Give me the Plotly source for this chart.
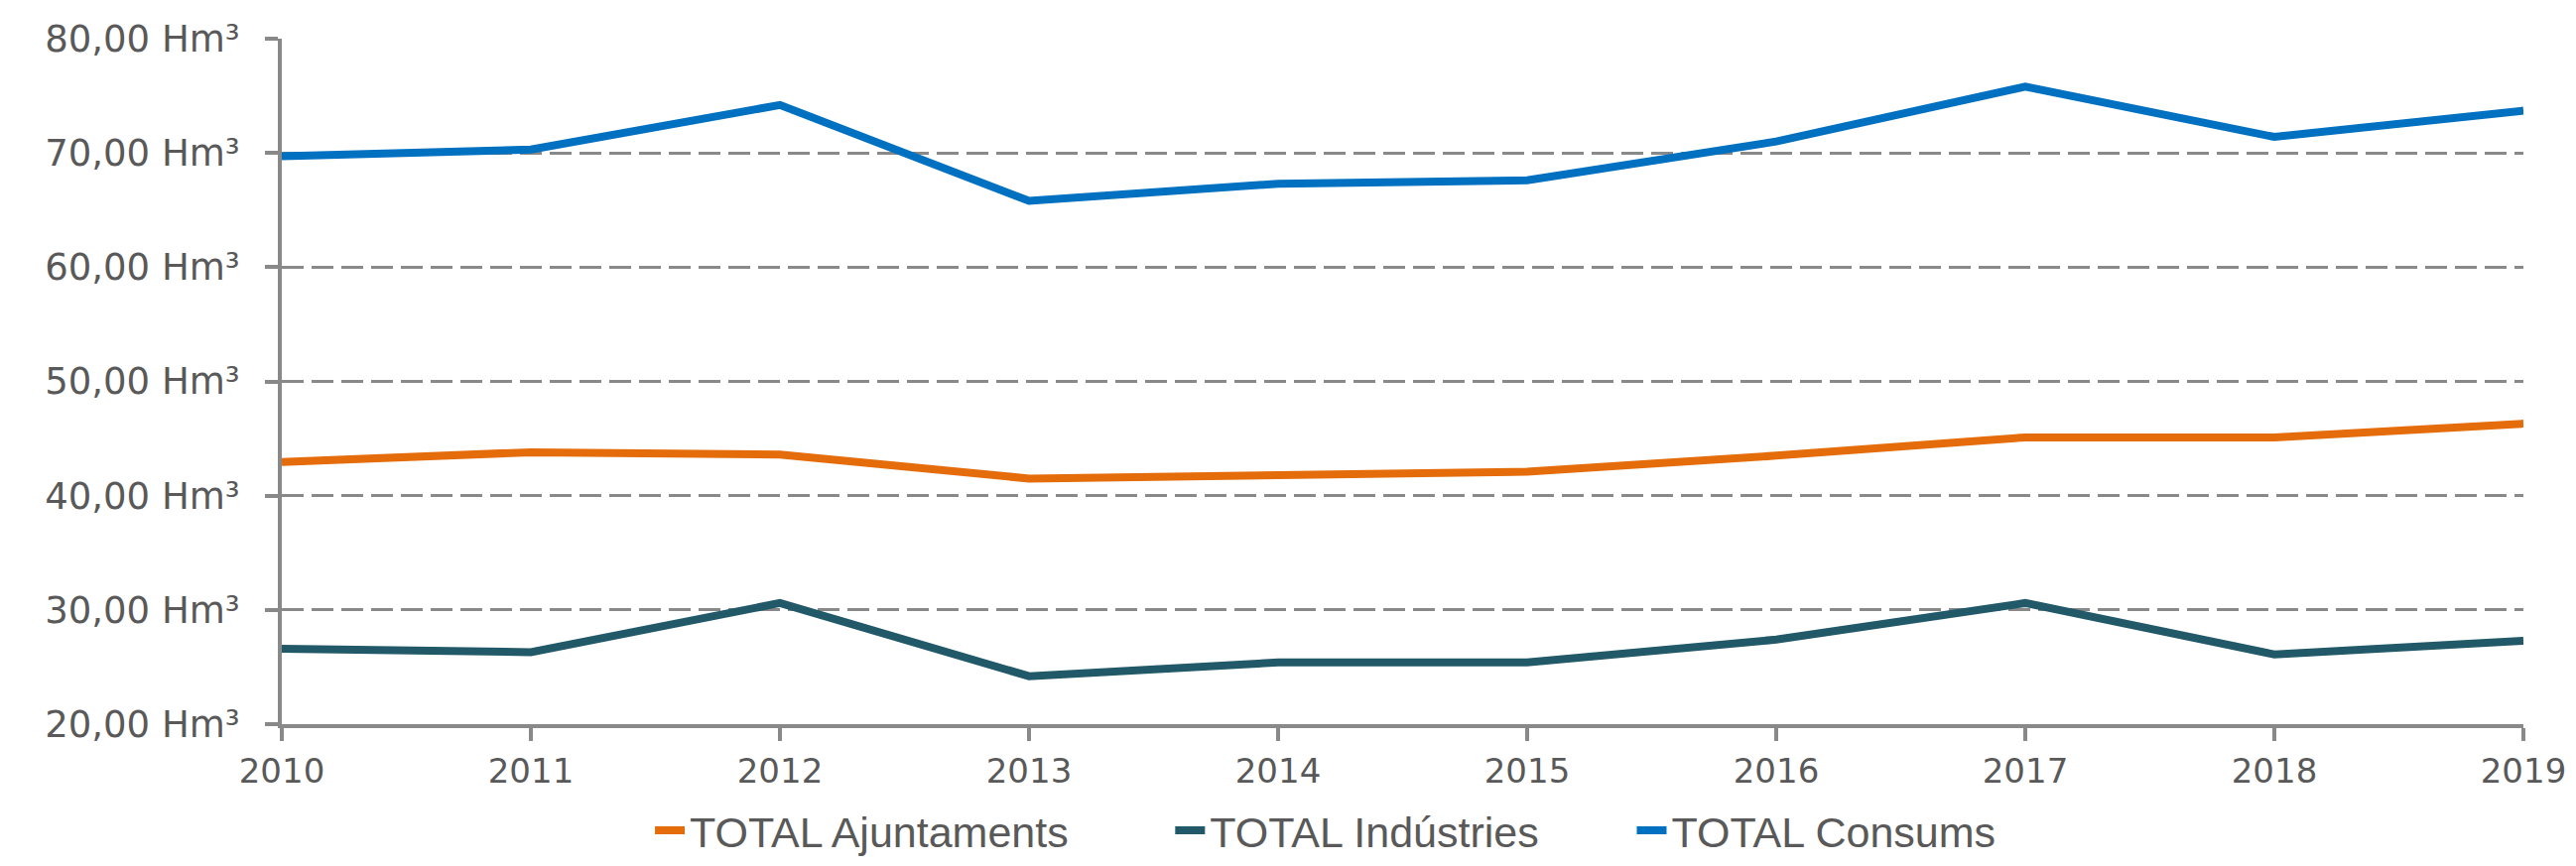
import plotly.graph_objects as go

years = [2010, 2011, 2012, 2013, 2014, 2015, 2016, 2017, 2018, 2019]
ajuntaments = [42.95, 43.8, 43.6, 41.5, 41.8, 42.1, 43.5, 45.1, 45.1, 46.3]
industries = [26.6, 26.3, 30.6, 24.2, 25.4, 25.4, 27.4, 30.6, 26.1, 27.3]
consums = [69.7, 70.3, 74.2, 65.8, 67.3, 67.6, 71.0, 75.8, 71.4, 73.7]
y_ticks = [20, 30, 40, 50, 60, 70, 80]
y_labels = [f"{v},00 Hm³" for v in y_ticks]

series = [
    ("TOTAL Ajuntaments", ajuntaments, "#E46C0A", "legend", 0.2508),
    ("TOTAL Indústries", industries, "#215968", "legend2", 0.4540),
    ("TOTAL Consums", consums, "#0070C0", "legend3", 0.6343),
]

W, H = 2580, 857
fig = go.Figure()
for name, vals, col, lg, _ in series:
    fig.add_trace(go.Scatter(x=years, y=vals, name=name, mode="lines", legend=lg,
                             line=dict(color=col, width=8)))

legend_font = dict(family="Liberation Sans, Arial, sans-serif", size=43, color="#595959")
layout_legends = {}
for name, vals, col, lg, xpos in series:
    layout_legends[lg] = dict(orientation="h", x=xpos, xanchor="left", xref="container",
                              y=-0.155, yanchor="middle", yref="paper",
                              font=legend_font, itemwidth=30, bgcolor="rgba(0,0,0,0)")

fig.update_layout(
    width=W, height=H,
    margin=dict(l=276, r=45, t=31, b=135, autoexpand=False),
    paper_bgcolor="white", plot_bgcolor="white",
    font=dict(family="DejaVu Sans, sans-serif", color="#595959", size=37),
    showlegend=True,
    **layout_legends,
)
fig.update_xaxes(range=[2010, 2019], tickvals=years, ticktext=[str(y) for y in years],
                 showgrid=False, showline=True, linecolor="#898989", linewidth=4,
                 ticks="outside", ticklen=13, tickwidth=4, tickcolor="#898989",
                 ticklabelstandoff=1, ticklabeloverflow="allow",
                 tickfont=dict(size=34, color="#595959"), zeroline=False)
fig.update_yaxes(range=[20, 80], tickvals=y_ticks, ticktext=y_labels,
                 showgrid=True, gridcolor="#898989", gridwidth=3, griddash="22px,8px",
                 showline=True, linecolor="#898989", linewidth=4,
                 ticks="outside", ticklen=13, tickwidth=4, tickcolor="#898989",
                 ticklabelstandoff=18,
                 tickfont=dict(size=37, color="#595959"), zeroline=False)

fig.write_html("out.html")
